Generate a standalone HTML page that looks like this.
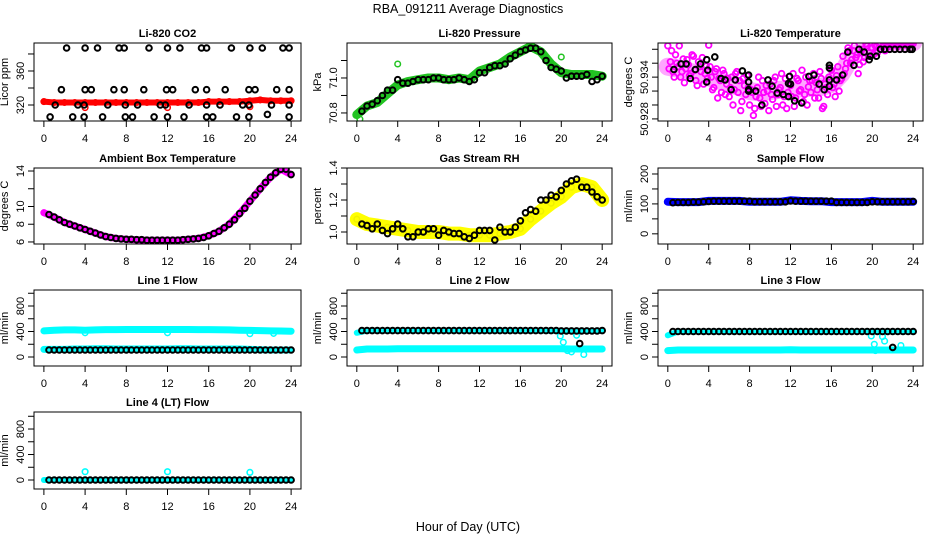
<!DOCTYPE html>
<html><head><meta charset="utf-8"><style>
html,body{margin:0;padding:0;background:#fff;}
svg{display:block;font-family:"Liberation Sans",Arial,sans-serif;}
</style></head><body>
<svg id="chart" width="936" height="540" viewBox="0 0 936 540" xmlns="http://www.w3.org/2000/svg">
<text x="468" y="13" font-size="12.5" text-anchor="middle">RBA_091211  Average Diagnostics</text>
<text x="468" y="531" font-size="12.5" text-anchor="middle">Hour of Day (UTC)</text>
</svg>
<script>
// ---------- data ----------
const hours=[0,1,2,3,4,5,6,7,8,9,10,11,12,13,14,15,16,17,18,19,20,21,22,23,24];
const halfHours=[0.5,1,1.5,2,2.5,3,3.5,4,4.5,5,5.5,6,6.5,7,7.5,8,8.5,9,9.5,10,10.5,11,11.5,12,12.5,13,13.5,14,14.5,15,15.5,16,16.5,17,17.5,18,18.5,19,19.5,20,20.5,21,21.5,22,22.5,23,23.5,24];
const xTicks=[0,4,8,12,16,20,24];

const co2BlackX=[2.2,4,5.2,7.3,7.8,10.2,12,13.2,15.3,15.8,18.2,20,21.2,23.2,23.8,
 1.7,4,4.6,6.8,7.8,9.7,11.9,12.5,14.7,15.8,17.6,19.9,20.5,22.6,23.8,
 1.1,3.3,3.9,6.2,7.9,9.1,11.3,11.8,14.1,15.8,17.1,19.3,19.9,22.1,23.8,
 0.6,2.8,3.9,5.7,7.9,8.6,10.7,12,13.6,15.8,16.4,18.7,19.9,21.7,23.8];
const co2BlackY=[387,387,387,387,387,387,387,387,387,387,387,387,387,387,387,
 338,338,338,338,338,338,338,338,338,338,338,338,338,338,338,
 320,320,320,320,320,320,320,320,320,320,320,320,320,320,320,
 306,306,306,306,306,306,306,306,306,306,306,306,306,309,306];
const co2Red=[324,323,323,323,323,323,323,323,323,323,323,323,323,323,323,323,324,324,324,324,325,326,325,325,325];
const co2RedOutX=[4,12,20];
const co2RedOutY=[317,317,318];

const presGreen=[70.79,70.84,70.86,70.91,70.96,70.98,70.99,71.0,71.0,70.99,71.0,70.99,71.04,71.06,71.08,71.12,71.15,71.18,71.15,71.08,71.03,71.02,71.02,71.02,71.01];
const presOutX=[0.3,4,20];
const presOutY=[70.765,71.08,71.12];
const presBlack=[70.81,70.84,70.85,70.87,70.9,70.93,70.93,70.99,70.97,70.97,70.98,70.99,70.99,70.99,71.0,71.0,70.99,70.99,70.99,71.0,70.99,70.98,70.99,71.03,71.03,71.06,71.07,71.07,71.08,71.11,71.13,71.15,71.16,71.17,71.17,71.15,71.1,71.06,71.05,71.04,71.0,71.01,71.01,71.01,71.02,70.98,70.99,71.01];

const tempMagA=[50.9385,50.9362,50.9348,50.9372,50.9355,50.9340,50.9366,50.9352,
 50.9358,50.9345,50.9370,50.9335,50.9362,50.9348,50.9330,50.9356,
 50.9386,50.9340,50.9325,50.9352,50.9338,50.9318,50.9345,50.9330,
 50.9312,50.9340,50.9322,50.9348,50.9335,50.9305,50.9328,50.9342,
 50.9300,50.9318,50.9295,50.9325,50.9310,50.9335,50.9302,50.9320,
 50.9330,50.9308,50.9340,50.9315,50.9325,50.9300,50.9338,50.9318,
 50.9328,50.9345,50.9310,50.9335,50.9322,50.9305,50.9340,50.9326,
 50.9318,50.9345,50.9332,50.9310,50.9338,50.9298,50.9325,50.9340,
 50.9350,50.9330,50.9342,50.9320,50.9338,50.9345,50.9360,50.9378,
 50.9365,50.9385,50.9372,50.9358,50.9380,50.9368,50.9385,50.9375,
 50.9382,50.9386,50.9375,50.9388,50.9384,50.9378,50.9387,50.9385,
 50.9386,50.9388,50.9384,50.9387,50.9388,50.9386,50.9388,50.9387,50.9388];
const tempMagB=[50.9352,50.9378,50.9340,50.9360,50.9385,50.9348,50.9332,50.9365,
 50.9342,50.9372,50.9350,50.9328,50.9355,50.9368,50.9345,50.9338,
 50.9355,50.9322,50.9348,50.9310,50.9335,50.9350,50.9315,50.9338,
 50.9325,50.9300,50.9345,50.9318,50.9292,50.9338,50.9315,50.9325,
 50.9322,50.9285,50.9312,50.9340,50.9298,50.9318,50.9328,50.9292,
 50.9315,50.9335,50.9298,50.9322,50.9345,50.9312,50.9295,50.9330,
 50.9312,50.9298,50.9338,50.9320,50.9350,50.9315,50.9300,50.9335,
 50.9335,50.9310,50.9322,50.9348,50.9295,50.9330,50.9315,50.9352,
 50.9325,50.9312,50.9355,50.9335,50.9370,50.9352,50.9382,50.9360,
 50.9378,50.9368,50.9345,50.9375,50.9362,50.9388,50.9370,50.9382,
 50.9372,50.9384,50.9388,50.9380,50.9386,50.9388,50.9384,50.9388,
 50.9388,50.9386,50.9388,50.9388,50.9387,50.9388,50.9388,50.9388];
const tempBand=[50.9355,50.9352,50.9348,50.9345,50.9340,50.9335,50.9330,50.9326,50.9320,50.9318,50.9320,50.9322,50.9322,50.9324,50.9325,50.9326,50.9330,50.9345,50.9370,50.9378,50.9384,50.9388,50.9390,50.9390,50.9390];
const tempBlackX=[0.6,1.3,1.8,2.2,2.7,3.2,3.8,3.9,3.8,4.6,5.2,5.6,6.2,6.6,7.3,7.9,7.9,7.9,7.9,8.6,9.2,9.8,10.2,10.7,11.3,11.8,11.8,11.9,12.0,12.4,13.1,13.8,14.3,14.8,15.3,15.8,15.8,15.8,15.8,16.5,17.1,17.6,18.2,18.7,19.2,19.7,19.8,20.4,20.8,21.2,21.7,22.2,22.7,23.2,23.7,23.9];
const tempBlackY=[50.9351,50.9359,50.9359,50.9338,50.9351,50.9359,50.9365,50.9350,50.9333,50.9369,50.9338,50.9336,50.9322,50.9336,50.9349,50.9343,50.9333,50.9322,50.9320,50.9320,50.9300,50.9336,50.9327,50.9317,50.9315,50.9312,50.9331,50.9341,50.9330,50.9306,50.9303,50.9341,50.9343,50.9330,50.9322,50.9327,50.9336,50.9357,50.9353,50.9336,50.9343,50.9376,50.9357,50.9380,50.9376,50.9365,50.9370,50.9370,50.9380,50.9380,50.9380,50.9380,50.9380,50.9380,50.9380,50.9380];

const ambMag=[9.3,8.8,8.2,7.8,7.4,7.0,6.6,6.4,6.3,6.25,6.2,6.2,6.2,6.2,6.3,6.4,6.7,7.2,8.0,9.2,10.6,12.0,13.3,14.2,13.6];
const ambBlack=[9.1,8.8,8.5,8.2,8.0,7.8,7.6,7.4,7.2,7.0,6.8,6.6,6.5,6.4,6.35,6.3,6.3,6.25,6.25,6.2,6.2,6.2,6.2,6.2,6.2,6.2,6.25,6.3,6.35,6.4,6.5,6.7,6.95,7.2,7.6,8.0,8.5,9.2,9.8,10.6,11.3,12.0,12.7,13.3,13.8,14.2,14.2,13.6];

const rhYellow=[1.08,1.05,1.04,1.03,1.02,1.01,1.0,1.0,1.0,0.99,0.99,0.98,0.98,0.98,0.99,1.0,1.02,1.08,1.13,1.18,1.22,1.28,1.3,1.28,1.2];
const rhBlack=[1.05,1.04,1.02,1.05,1.01,0.99,1.02,1.05,1.02,0.97,0.97,1.0,1.0,1.02,1.02,0.98,1.01,1.0,0.99,0.99,0.97,0.96,0.98,1.01,1.01,1.01,0.95,1.03,1.0,1.0,1.03,1.07,1.12,1.14,1.13,1.2,1.2,1.23,1.22,1.26,1.3,1.32,1.33,1.28,1.28,1.25,1.22,1.2];

const sampBlue=[107,106,106,106,110,110,110,110,107,107,107,107,112,110,109,109,106,106,106,106,110,107,107,107,107];
const sampBlack=[104,105,105,105,106,106,107,108,109,109,109,109,109,109,109,109,107,107,107,107,107,107,107,110,109,109,109,109,109,109,109,109,105,105,105,105,105,105,105,107,107,107,107,107,107,107,107,108];

const l1High=[410,420,425,425,420,425,430,430,432,432,432,432,432,432,432,430,430,428,425,420,418,415,410,408,405];
const l1Low=[120,120,120,125,125,130,130,125,125,125,125,125,125,130,130,125,125,125,125,125,120,115,110,110,110];
const l1Black=[110,110,110,110,110,110,110,110,110,110,110,110,110,110,110,110,110,110,110,110,110,110,110,110,110,110,110,110,110,110,110,110,110,110,110,110,110,110,110,110,110,110,110,110,110,110,110,110];
const l1DipX=[4,12,20,22.3];
const l1DipY=[380,380,365,370];

const l2High=[380,415,415,415,415,415,415,415,415,415,415,415,415,415,415,415,415,415,415,410,410,410,410,410,410];
const l2Low=[110,125,125,125,130,130,130,130,130,130,130,130,130,130,130,130,130,130,130,130,130,125,125,125,125];
const l2Black=[415,415,415,415,415,415,415,415,415,415,415,415,415,415,415,415,415,415,415,415,415,415,415,415,415,415,415,415,415,415,415,415,415,415,415,415,415,415,415,410,410,410,410,410,410,410,410,415];
const l2DipX=[19.9,20.2,20.6,21,21.5,22.2];
const l2DipY=[330,230,100,80,340,40];
const l2OutX=[21.8];
const l2OutY=[210];

const l3High=[340,400,400,400,400,400,400,400,400,400,400,400,400,400,400,400,400,400,400,400,400,400,400,400,400];
const l3Low=[100,110,110,110,110,110,110,110,110,110,110,110,115,110,110,110,110,110,110,110,110,110,110,110,110];
const l3Black=[400,400,400,400,400,400,400,400,400,400,400,400,400,400,400,400,400,400,400,400,400,400,400,400,400,400,400,400,400,400,400,400,400,400,400,400,400,400,400,400,400,400,400,400,400,400,400,400];
const l3DipX=[19.9,20.2,20.3,21,21.2,22.8];
const l3DipY=[330,200,100,320,250,180];
const l3OutX=[22];
const l3OutY=[150];

const l4Cyan=[0,0,0,0,0,0,0,0,0,0,0,0,0,0,0,0,0,0,0,0,0,0,0,0,0];
const l4Black=[0,0,0,0,0,0,0,0,0,0,0,0,0,0,0,0,0,0,0,0,0,0,0,0,0,0,0,0,0,0,0,0,0,0,0,0,0,0,0,0,0,0,0,0,0,0,0,0];
const l4SpikeX=[4,12,20];
const l4SpikeY=[130,130,120];

// ---------- drawing ----------
const NS="http://www.w3.org/2000/svg";
const svg=document.getElementById('chart');
const cols=[[34,301],[347,612],[658,923]];
const rows=[[43,121],[168,244],[290,366],[412,489]];
function mk(tag,attrs,parent){const e=document.createElementNS(NS,tag);for(const k in attrs)e.setAttribute(k,attrs[k]);(parent||svg).appendChild(e);return e;}

let clipId=0;
function panel(c,r,title,ylab,ymin,ymax,yTicks,yLabels,name,draw){
  const L=cols[c][0],R=cols[c][1],T=rows[r][0],B=rows[r][1];
  const g=mk('g',{});
  
  
  const xs=x=>L+(x+0.96)/25.92*(R-L);
  const ys=v=>B-(v-ymin)/(ymax-ymin)*(B-T);
  const cid='clip'+(clipId++);
  const cp=mk('clipPath',{id:cid},g);mk('rect',{x:L,y:T,width:R-L,height:B-T},cp);
  const plot=mk('g',{'clip-path':'url(#'+cid+')'},g);
  
  
  const api={
    band(xa,ya,color,w,op){
      const pts=xa.map((x,i)=>xs(x).toFixed(1)+','+ys(ya[i]).toFixed(1)).join(' ');
      const pl=mk('polyline',{points:pts,fill:'none',stroke:color,'stroke-width':w,'stroke-linejoin':'round','stroke-linecap':'round','stroke-opacity':op||1},plot);
      
      
    },
    pts(xa,ya,color,sw){
      xa.forEach((x,i)=>{
        const ci=mk('circle',{cx:xs(x).toFixed(1),cy:ys(ya[i]).toFixed(1),r:2.8,fill:'none',stroke:color,'stroke-width':sw||2},plot);
        
        
      });
    }
  };
  draw(api);
  const box=mk('rect',{x:L,y:T,width:R-L,height:B-T,fill:'none',stroke:'#000','stroke-width':1},g);
  
  
  const t=mk('text',{x:(L+R)/2,y:T-6,'font-size':11,'font-weight':'bold','text-anchor':'middle'},g);
  t.textContent=title;
  
  
  xTicks.forEach(v=>{
    mk('line',{x1:xs(v),x2:xs(v),y1:B,y2:B+6,stroke:'#000'},g);
    const tl=mk('text',{x:xs(v),y:B+21,'font-size':11,'text-anchor':'middle'},g);
    tl.textContent=v;
    
    
  });
  yTicks.forEach(v=>{mk('line',{x1:L-6,x2:L,y1:ys(v),y2:ys(v),stroke:'#000'},g);});
  yLabels.forEach(v=>{
    const y=ys(v);
    const tl=mk('text',{x:L-10,y:y,'font-size':11,'text-anchor':'middle',transform:'rotate(-90 '+(L-10)+' '+y+')'},g);
    tl.textContent=v;
    
    
  });
  const my=(T+B)/2, lx=L-26;
  const yl=mk('text',{x:lx,y:my,'font-size':11,'text-anchor':'middle',transform:'rotate(-90 '+lx+' '+my+')'},g);
  yl.textContent=ylab;
  
  
}
const flowTicks=[0,200,400,600,800,1000], flowLabels=[0,400,800];

panel(0,0,'Li-820 CO2','Licor ppm',301.2,392.9,[320,340,360,380],[320,360],'co2',a=>{
  a.band(hours,co2Red,'#ff0000',6);a.pts(hours,co2Red,'#ff0000',1.5);
  a.pts(co2RedOutX,co2RedOutY,'#ff0000',1.5);
  a.pts(co2BlackX,co2BlackY,'#000');
});
panel(1,0,'Li-820 Pressure','kPa',70.754,71.2,[70.8,70.9,71.0,71.1],['70.8','71.0'],'pressure',a=>{
  a.band(hours,presGreen,'#22c322',9);a.pts(hours,presGreen,'#22c322',1.5);
  a.pts(presOutX,presOutY,'#22c322',1.5);
  a.pts(halfHours,presBlack,'#000');
});
panel(2,0,'Li-820 Temperature','degrees C',50.9277,50.9389,[50.928,50.930,50.932,50.934,50.936,50.938],['50.928','50.934'],'li820-temp',a=>{
  a.band(hours,tempBand,'#ff00ff',18,0.35);
  a.pts(tempMagA.map((_,i)=>i*0.25),tempMagA,'#ff00ff',1.8);
  a.pts(tempMagB.map((_,i)=>0.125+i*0.25),tempMagB,'#ff00ff',1.8);
  a.pts(tempBlackX,tempBlackY,'#000');
});
panel(0,1,'Ambient Box Temperature','degrees C',5.77,14.34,[6,8,10,12,14],[6,8,10,14],'ambient-temp',a=>{
  a.band(hours,ambMag,'#ff00ff',7);a.pts(hours,ambMag,'#ff00ff',1.5);
  a.pts(halfHours,ambBlack,'#000');
});
panel(1,1,'Gas Stream RH','percent',0.925,1.4,[1.0,1.1,1.2,1.3,1.4],['1.0','1.2','1.4'],'gas-rh',a=>{
  a.band(hours,rhYellow,'#ffff00',14);a.pts(hours,rhYellow,'#f0f000',1.5);
  a.pts(halfHours,rhBlack,'#000');
});
panel(2,1,'Sample Flow','ml/min',-34,220,[0,50,100,150,200],[0,100,200],'sample-flow',a=>{
  a.band(hours,sampBlue,'#0000ff',8);
  a.pts(halfHours,sampBlack,'#000');
});
panel(0,2,'Line 1 Flow','ml/min',-141,1051,flowTicks,flowLabels,'line1-flow',a=>{
  a.band(hours,l1High,'#00ffff',7);a.band(hours,l1Low,'#00ffff',7);
  a.pts(l1DipX,l1DipY,'#00ffff',1.5);
  a.pts(halfHours,l1Black,'#000');
});
panel(1,2,'Line 2 Flow','ml/min',-141,1051,flowTicks,flowLabels,'line2-flow',a=>{
  a.band(hours,l2Low,'#00ffff',7);a.band(hours,l2High,'#00ffff',6);
  a.pts(l2DipX,l2DipY,'#00ffff',1.5);
  a.pts(halfHours,l2Black,'#000');a.pts(l2OutX,l2OutY,'#000');
});
panel(2,2,'Line 3 Flow','ml/min',-141,1051,flowTicks,flowLabels,'line3-flow',a=>{
  a.band(hours,l3Low,'#00ffff',7);a.band(hours,l3High,'#00ffff',6);
  a.pts(l3DipX,l3DipY,'#00ffff',1.5);
  a.pts(halfHours,l3Black,'#000');a.pts(l3OutX,l3OutY,'#000');
});
panel(0,3,'Line 4 (LT) Flow','ml/min',-141,1067,flowTicks,flowLabels,'line4-flow',a=>{
  a.band(hours,l4Cyan,'#00ffff',6);
  a.pts(l4SpikeX,l4SpikeY,'#00ffff',1.6);
  a.pts(halfHours,l4Black,'#000');
});
</script>
</body></html>
